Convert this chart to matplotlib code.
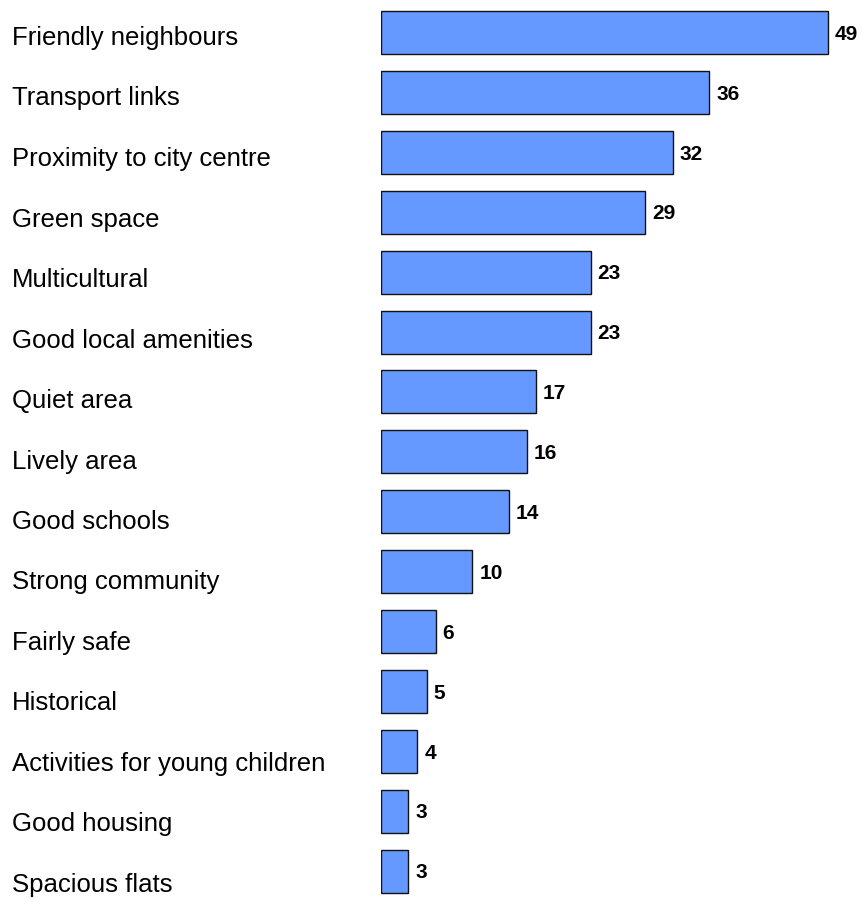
import matplotlib
matplotlib.use("Agg")
import matplotlib.pyplot as plt

# reasons people like the area, share of respondents
labels = ["Friendly neighbours", "Transport links", "Proximity to city centre",
          "Green space", "Multicultural", "Good local amenities", "Quiet area",
          "Lively area", "Good schools", "Strong community", "Fairly safe",
          "Historical", "Activities for young children", "Good housing",
          "Spacious flats"]
values = [49, 36, 32, 29, 23, 23, 17, 16, 14, 10, 6, 5, 4, 3, 3]

plt.rcParams['font.family'] = ['Liberation Sans', 'DejaVu Sans']

W, H = 861, 900
row = 59.9  # bar pitch in pixels
fig = plt.figure(figsize=(W / 100, H / 100), dpi=100)
ax = fig.add_axes([381 / W, 0, 1 - 381 / W, 1])

pos = list(range(len(values)))
ax.barh(pos, values, height=43 / row, color="#6699FF", edgecolor="#111111", linewidth=1.0)

ax.set_xlim(0, (W - 381) / 9.12)
ax.set_ylim((H - 32.5) / row, -32.5 / row)
ax.axis("off")

# value labels, baseline a little below the bar centre
for p, v in zip(pos, values):
    ax.annotate(str(v), (v, p), xytext=(5, -5.2), textcoords="offset points",
                ha="left", va="baseline", fontsize=15, fontweight="bold")

# category names down the left side, on a slightly wider pitch than the bars
for p, lab in zip(pos, labels):
    fig.text(12 / W, 1 - (45 + 60.5 * p) / H, lab, ha="left", va="baseline",
             fontsize=18.5)

fig.savefig("out.png", dpi=100)
